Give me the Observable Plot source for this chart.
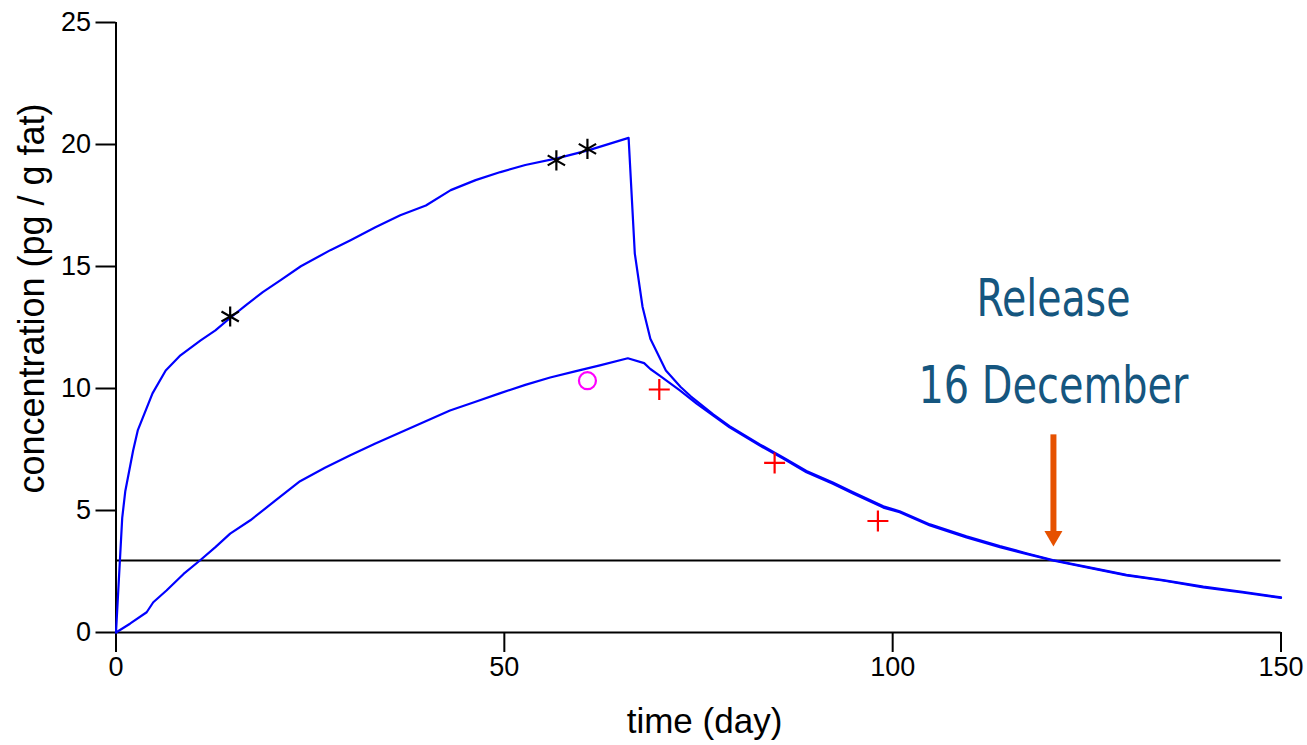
<!DOCTYPE html>
<html>
<head>
<meta charset="utf-8">
<script src="https://cdn.jsdelivr.net/npm/d3@7"></script>
<script src="https://cdn.jsdelivr.net/npm/@observablehq/plot@0.6"></script>
<style>
  html, body { margin: 0; padding: 0; background: white; }
</style>
</head>
<body>
<div id="chart"></div>
<script>
// ---- data ----
const upperDays = [0, 0.8, 1.2, 2.2, 2.8, 4.7, 6.4, 8.3, 10.9, 12.8, 14.8, 16.7, 18.9, 21.2, 23.8, 27.6, 30.2, 33.4, 36.6, 39.9, 43.1, 46.3, 49.5, 52.7, 56.9, 60.9, 66.0,
  66.8, 67.8, 68.8, 70.8, 72.7, 74.0, 76.9, 79.0, 82.9, 85.9, 88.9, 92.3, 94.9, 98.8, 100.9, 104.8, 109.5, 113.8, 117.2, 120.6, 125.8, 130.1, 134.8, 140, 145, 150];
const upperConc = [0, 4.7, 5.8, 7.45, 8.28, 9.8, 10.74, 11.36, 11.97, 12.38, 12.92, 13.41, 13.95, 14.44, 15.01, 15.67, 16.08, 16.61, 17.1, 17.5, 18.13, 18.54, 18.87, 19.16, 19.44, 19.77, 20.27,
  15.53, 13.34, 12.04, 10.74, 10.06, 9.68, 8.94, 8.46, 7.71, 7.17, 6.62, 6.15, 5.75, 5.17, 4.97, 4.43, 3.94, 3.54, 3.25, 2.97, 2.64, 2.36, 2.15, 1.88, 1.67, 1.44];

const lowerDays = [0, 1.8, 3.95, 4.8, 6.5, 8.7, 10.8, 12.8, 14.7, 17.3, 20.5, 23.7, 26.9, 30.1, 33.4, 36.6, 39.8, 43.0, 46.2, 49.4, 52.7, 55.9, 59.1, 62.3, 65.9,
  68.0, 68.8, 70.0, 72.6, 74.8, 76.9, 79.0, 82.9, 85.9, 88.9, 92.3, 94.9, 98.8, 100.9, 104.8, 109.5, 113.8, 117.2, 120.6, 125.8, 130.1, 134.8, 140, 145, 150];
const lowerConc = [0, 0.36, 0.83, 1.24, 1.72, 2.4, 2.95, 3.5, 4.05, 4.6, 5.4, 6.2, 6.75, 7.25, 7.75, 8.2, 8.65, 9.1, 9.45, 9.8, 10.15, 10.45, 10.7, 10.95, 11.24,
  11.04, 10.8, 10.53, 9.92, 9.37, 8.89, 8.41, 7.66, 7.13, 6.57, 6.1, 5.7, 5.12, 4.93, 4.39, 3.9, 3.5, 3.22, 2.95, 2.62, 2.34, 2.13, 1.85, 1.64, 1.42];

const asteriskDays = [14.7, 56.7, 60.7];
const asteriskConc = [12.95, 19.35, 19.82];
const circleDays = [60.7];
const circleConc = [10.32];
const plusDays = [69.95, 84.8, 98.1];
const plusConc = [9.96, 6.95, 4.57];

const threshold = 2.95;
const arrowDay = 120.7;
const arrowTop = 8.1;
const arrowShaftEnd = 4.1;
const arrowHeadConc = 3.95;

const noteLines = ["Release", "16 December"];
const noteConc = [12.96, 9.39];

const xTicks = [0, 50, 100, 150];
const yTicks = [0, 5, 10, 15, 20, 25];
const xLabel = "time (day)";
const yLabel = "concentration (pg / g fat)";

// ---- tables built from the arrays ----
const upper = upperDays.map((d, i) => ({day: d, conc: upperConc[i]}));
const lower = lowerDays.map((d, i) => ({day: d, conc: lowerConc[i]}));
const asterisks = asteriskDays.map((d, i) => ({day: d, conc: asteriskConc[i]}));
const circles = circleDays.map((d, i) => ({day: d, conc: circleConc[i]}));
const pluses = plusDays.map((d, i) => ({day: d, conc: plusConc[i]}));
const notes = noteLines.map((t, i) => ({text: t, day: arrowDay, conc: noteConc[i]}));
const arrowShaft = [{day: arrowDay, y1: arrowTop, y2: arrowShaftEnd}];
const arrowHead = [{day: arrowDay, conc: arrowHeadConc}];

const orange = "#e65100";
const noteColor = "#15567f";
const noteWidths = {"Release": 154, "16 December": 270};

const chart = Plot.plot({
  width: 1307,
  height: 745,
  marginLeft: 115.5,
  marginRight: 26.5,
  marginTop: 22,
  marginBottom: 113,
  style: {
    fontFamily: "'Liberation Sans', Arial, sans-serif",
    fontSize: "27px",
    background: "white",
    color: "black"
  },
  x: {domain: [0, 150]},
  y: {domain: [0, 25]},
  marks: [
    Plot.axisX({ticks: xTicks, tickSize: 20, tickPadding: 4, strokeWidth: 2, label: null, fontSize: 27}),
    Plot.axisY({ticks: yTicks, tickSize: 20, tickPadding: 5, strokeWidth: 2, label: null, fontSize: 27}),
    Plot.ruleX([0], {y1: 0, y2: 25, stroke: "black", strokeWidth: 2}),
    Plot.ruleY([0], {x1: 0, x2: 150, stroke: "black", strokeWidth: 2}),
    Plot.ruleY([threshold], {x1: 0, x2: 150, stroke: "black", strokeWidth: 2}),
    Plot.line(lower, {x: "day", y: "conc", stroke: "#0000ff", strokeWidth: 2.2}),
    Plot.line(upper, {x: "day", y: "conc", stroke: "#0000ff", strokeWidth: 2.2}),
    Plot.dot(asterisks, {x: "day", y: "conc", symbol: "asterisk", r: 9.5, stroke: "black", strokeWidth: 2.2}),
    Plot.dot(circles, {x: "day", y: "conc", symbol: "circle", r: 8.5, stroke: "#ff00ff", fill: "none", strokeWidth: 2.2}),
    Plot.dot(pluses, {x: "day", y: "conc", symbol: "plus", r: 6.8, stroke: "#ff0000", strokeWidth: 2.2}),
    Plot.ruleX(arrowShaft, {x: "day", y1: "y1", y2: "y2", stroke: orange, strokeWidth: 6}),
    Plot.dot(arrowHead, {x: "day", y: "conc", symbol: "triangle", r: 6.7, rotate: 180, fill: orange, stroke: "none"}),
    Plot.text(notes, {x: "day", y: "conc", text: "text", fill: noteColor, fontSize: 52,
      fontFamily: "'DejaVu Sans Condensed', 'DejaVu Sans', sans-serif",
      lineAnchor: "bottom", textAnchor: "middle"}),
    Plot.text([xLabel], {frameAnchor: "bottom", dy: 100, dx: 6, lineAnchor: "bottom", textAnchor: "middle", fontSize: 35, fill: "black"}),
    Plot.text([yLabel], {frameAnchor: "left", rotate: -90, dx: -72, dy: -29, lineAnchor: "bottom", textAnchor: "middle", fontSize: 36, fill: "black"})
  ]
});

// compress the annotation lines to the condensed width seen in the reference
d3.select(chart).selectAll("text")
  .filter(function() { return noteLines.includes(this.textContent); })
  .attr("textLength", function() { return noteWidths[this.textContent]; })
  .attr("lengthAdjust", "spacingAndGlyphs");

document.getElementById("chart").appendChild(chart);
</script>
</body>
</html>
